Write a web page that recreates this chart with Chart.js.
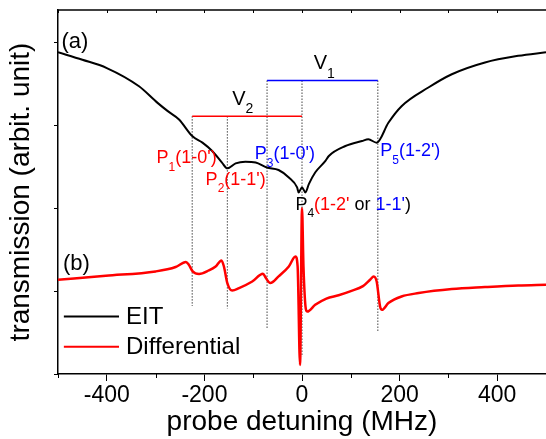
<!DOCTYPE html>
<html>
<head>
<meta charset="utf-8">
<script src="https://cdn.jsdelivr.net/npm/chart.js@4.4.0/dist/chart.umd.min.js"></script>
<style>
  html, body { margin: 0; padding: 0; background: #fff; }
  #wrap { width: 546px; height: 439px; }
</style>
</head>
<body>
<div id="wrap"><canvas id="eitChart"></canvas></div>
<script>
// (a) EIT transmission spectrum (MHz, arb. units)
const eitX = [-500, -450, -400, -334, -296, -275, -252, -225, -204, -184, -164, -153,
              -136, -116, -95, -72, -48, -27, -10, -7, 0, 7, 14, 27, 48, 55, 89, 123,
              136, 153, 177, 204, 259, 307, 375, 443, 500];
const eitY = [3.88, 3.79, 3.69, 3.47, 3.27, 3.17, 3.07, 2.87, 2.79, 2.69, 2.55, 2.48,
              2.54, 2.56, 2.55, 2.49, 2.46, 2.37, 2.25, 2.19, 2.25, 2.19, 2.29, 2.43, 2.57, 2.63, 2.75, 2.81,
              2.83, 2.79, 3.03, 3.23, 3.455, 3.615, 3.757, 3.837, 3.88];

// (b) differential signal
const diffX = [-500, -402, -300, -259, -238, -232, -224, -211, -191, -177, -165, -160,
               -153, -143, -129, -102, -80, -74, -65, -48, -27, -13.5, -9, -4, 0, 3, 8,
               11, 27, 50, 75, 100, 125, 140, 147, 153, 160, 164, 177, 204, 239, 307,
               375, 443, 500];
const diffY = [1.137, 1.185, 1.237, 1.29, 1.351, 1.318, 1.237, 1.206, 1.249, 1.297, 1.37, 1.297,
               1.097, 1.007, 1.036, 1.116, 1.209, 1.157, 1.097, 1.177, 1.297, 1.418, 1.30, 0.11, 2.0, 1.3, 0.78,
               0.753, 0.834, 0.91, 0.95, 1.0, 1.06, 1.14, 1.177, 1.116, 0.814, 0.774, 0.855, 0.935, 0.976, 1.024,
               1.048, 1.068, 1.077];

// dotted guides at P1..P5
const peakX = [-225, -153, -71.6, 0, 155.4];
const peakTop = [3.11, 3.11, 3.54, 3.54, 3.54];
const peakBottom = [0.82, 0.79, 0.54, 0.21, 0.51];

// V2 (red) and V1 (blue) spans
const v2Span = [-225, 0];
const v2Level = 3.11;
const v1Span = [-71.6, 155.4];
const v1Level = 3.54;

const xMajorTicks = [-400, -200, 0, 200, 400];
const xMinorTicks = [-500, -300, -100, 100, 300, 500];
const yTicks = [0, 1, 2, 3, 4];

const RED = '#ff0000', BLUE = '#0000ff', BLACK = '#000000';
const FONT = "'Liberation Sans', Arial, sans-serif";

const toPts = (xs, ys) => xs.map((x, i) => ({ x, y: ys[i] }));

const datasets = [
    { label: 'EIT', data: toPts(eitX, eitY), borderColor: BLACK, borderWidth: 2,
      pointRadius: 0, cubicInterpolationMode: 'monotone' },
    { label: 'Differential', data: toPts(diffX, diffY), borderColor: RED, borderWidth: 2.5,
      pointRadius: 0, cubicInterpolationMode: 'monotone' },
    { label: 'V2', data: toPts(v2Span, [v2Level, v2Level]), borderColor: RED, borderWidth: 1.5, pointRadius: 0 },
    { label: 'V1', data: toPts(v1Span, [v1Level, v1Level]), borderColor: BLUE, borderWidth: 1.5, pointRadius: 0 }
];
peakX.forEach((x, i) => {
    datasets.push({
        label: 'guide' + i,
        data: [{ x, y: peakTop[i] }, { x, y: peakBottom[i] }],
        borderColor: '#444', borderWidth: 1, borderDash: [1.5, 1.5], pointRadius: 0
    });
});

// annotation text: anchor (MHz, baseline in y units), pieces [text, colour, sub]
const textLabels = [
    { x: -493, y: 3.93, size: 22, parts: [['(a)', BLACK]] },
    { x: -490, y: 1.25, size: 22, parts: [['(b)', BLACK]] },
    { x: -143, y: 3.25, size: 20, parts: [['V', BLACK], ['2', BLACK, true]] },
    { x: 24, y: 3.676, size: 20, parts: [['V', BLACK], ['1', BLACK, true]] },
    { x: -298, y: 2.548, size: 18, parts: [['P', RED], ['1', RED, true], ["(1-0')", RED]] },
    { x: -197.5, y: 2.285, size: 18, parts: [['P', RED], ['2', RED, true], ["(1-1')", RED]] },
    { x: -96.7, y: 2.588, size: 18, parts: [['P', BLUE], ['3', BLUE, true], ["(1-0')", BLUE]] },
    { x: -13.5, y: 1.983, size: 18, parts: [['P', BLACK], ['4', BLACK, true], ["(1-2'", RED],
                                            [' or ', BLACK], ["1-1'", BLUE], [')', BLACK]] },
    { x: 160.3, y: 2.628, size: 18, parts: [['P', BLUE], ['5', BLUE, true], ["(1-2')", BLUE]] }
];

const legendItems = [
    { label: 'EIT', color: BLACK, y: 0.693 },
    { label: 'Differential', color: RED, y: 0.330 }
];

const decorPlugin = {
    id: 'decor',
    afterDatasetsDraw(chart) {
        const { ctx, chartArea, scales: { x, y } } = chart;
        ctx.save();

        // top frame with small inward ticks, minor ticks on the bottom axis
        ctx.strokeStyle = BLACK;
        ctx.lineWidth = 1.5;
        ctx.beginPath();
        ctx.moveTo(chartArea.left, chartArea.top);
        ctx.lineTo(chartArea.right, chartArea.top);
        ctx.stroke();
        ctx.lineWidth = 1;
        xMajorTicks.concat(xMinorTicks).forEach(v => {
            const px = Math.round(x.getPixelForValue(v)) + 0.5;
            ctx.beginPath();
            ctx.moveTo(px, chartArea.top);
            ctx.lineTo(px, chartArea.top + 3);
            ctx.stroke();
        });
        xMinorTicks.forEach(v => {
            const px = Math.round(x.getPixelForValue(v)) + 0.5;
            ctx.beginPath();
            ctx.moveTo(px, chartArea.bottom);
            ctx.lineTo(px, chartArea.bottom + 4);
            ctx.stroke();
        });

        // text annotations
        ctx.textBaseline = 'alphabetic';
        ctx.textAlign = 'left';
        textLabels.forEach(lab => {
            let px = x.getPixelForValue(lab.x);
            const py = y.getPixelForValue(lab.y);
            lab.parts.forEach(([t, c, sub]) => {
                const size = sub ? Math.round(lab.size * 0.68) : lab.size;
                ctx.font = size + 'px ' + FONT;
                ctx.fillStyle = c;
                ctx.fillText(t, px, sub ? py + lab.size * 0.44 : py);
                px += ctx.measureText(t).width;
            });
        });

        // legend
        const lx0 = x.getPixelForValue(-488), lx1 = x.getPixelForValue(-375);
        ctx.font = '24px ' + FONT;
        ctx.textBaseline = 'middle';
        legendItems.forEach(item => {
            const py = y.getPixelForValue(item.y);
            ctx.strokeStyle = item.color;
            ctx.lineWidth = 2;
            ctx.beginPath();
            ctx.moveTo(lx0, py);
            ctx.lineTo(lx1, py);
            ctx.stroke();
            ctx.fillStyle = BLACK;
            ctx.fillText(item.label, lx1 + 7, py + 1);
        });
        ctx.restore();
    }
};

new Chart(document.getElementById('eitChart'), {
    type: 'line',
    data: { datasets },
    options: {
        responsive: true,
        maintainAspectRatio: false,
        animation: false,
        layout: { padding: { top: 10, right: -2, left: 0, bottom: 0 } },
        plugins: { legend: { display: false }, tooltip: { enabled: false } },
        scales: {
            x: {
                type: 'linear', min: -500, max: 500,
                afterBuildTicks: s => { s.ticks = xMajorTicks.map(v => ({ value: v })); },
                afterFit: s => { s.height = 65; },
                grid: { drawOnChartArea: false, tickLength: 7, tickColor: BLACK, tickWidth: 1 },
                border: { color: BLACK, width: 1.5 },
                ticks: { color: BLACK, padding: 1, maxRotation: 0, font: { family: FONT, size: 23 } },
                title: { display: true, text: 'probe detuning (MHz)', color: BLACK, padding: 0,
                         font: { family: FONT, size: 28 } }
            },
            y: {
                type: 'linear', min: 0, max: 4.39,
                afterBuildTicks: s => { s.ticks = yTicks.map(v => ({ value: v })); },
                afterFit: s => { s.width = 58; },
                grid: { drawOnChartArea: false, tickLength: 4, tickColor: BLACK, tickWidth: 1 },
                border: { color: BLACK, width: 1.5 },
                ticks: { display: false },
                title: { display: true, text: 'transmission (arbit. unit)', color: BLACK,
                         padding: { top: 4, bottom: 0 }, font: { family: FONT, size: 28 } }
            }
        }
    },
    plugins: [decorPlugin]
});
</script>
</body>
</html>
